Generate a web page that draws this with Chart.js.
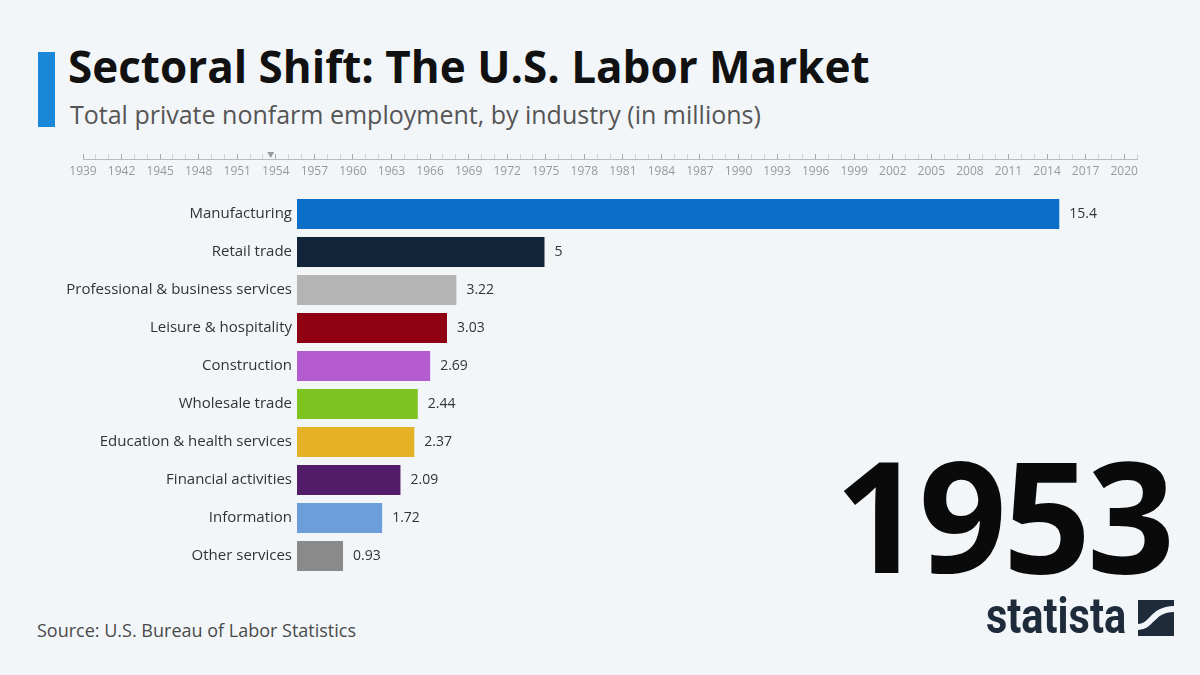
<!DOCTYPE html>
<html>
<head>
<meta charset="utf-8">
<script src="https://cdn.jsdelivr.net/npm/chart.js@4"></script>
<style>
  body { margin: 0; background: #f3f6f9; font-family: "Open Sans", sans-serif; }
  #page { position: relative; width: 1200px; height: 675px; overflow: hidden; }
  .accent { position: absolute; left: 38px; top: 52px; width: 17px; height: 75px; background: #1b87d8; }
  .title { position: absolute; left: 68px; top: 44px; font-size: 44px; line-height: 44px; font-weight: 700; color: #111; white-space: nowrap; }
  .subtitle { position: absolute; left: 70px; top: 101px; font-size: 25px; line-height: 26px; color: #555; white-space: nowrap; }
  .source { position: absolute; left: 37px; top: 620px; font-size: 18px; line-height: 20px; color: #4a4a4a; white-space: nowrap; }
  .year { position: absolute; right: 29px; top: 436px; font-size: 154px; line-height: 154px; font-weight: 700; color: #0a0a0a; letter-spacing: -4px; }
  .brand { position: absolute; left: 986px; top: 586px; font-family: Roboto, sans-serif; font-size: 50px; line-height: 60px; font-weight: 700; color: #1d2b3b; transform: scaleX(0.83); transform-origin: left; }
  .logo { position: absolute; left: 1138px; top: 600px; }
  canvas { position: absolute; left: 0; }
</style>
</head>
<body>
<div id="page">
  <div class="accent"></div>
  <div class="title">Sectoral Shift: The U.S. Labor Market</div>
  <div class="subtitle">Total private nonfarm employment, by industry (in millions)</div>
  <canvas id="timeline" width="1200" height="45" style="top:140px"></canvas>
  <canvas id="chart" width="1200" height="380" style="top:195px"></canvas>
  <div class="year" id="yearLabel"></div>
  <div class="brand">statista</div>
  <svg class="logo" width="36" height="36" viewBox="0 0 36 36">
    <rect width="36" height="36" fill="#1d2b3b"/>
    <path d="M0 27 C 14 27, 14 9, 36 9" stroke="#f3f6f9" stroke-width="6" fill="none"/>
  </svg>
  <div class="source">Source: U.S. Bureau of Labor Statistics</div>
</div>
<script>
// Chart data (snapshot for 1953)
const currentYear = 1953;
const markerYear = 1953.6;
const timelineStart = 1939;
const timelineEnd = 2021;
const industries = [
  'Manufacturing', 'Retail trade', 'Professional & business services',
  'Leisure & hospitality', 'Construction', 'Wholesale trade',
  'Education & health services', 'Financial activities', 'Information', 'Other services'
];
const employment = [15.4, 5, 3.22, 3.03, 2.69, 2.44, 2.37, 2.09, 1.72, 0.93];
const barColors = [
  '#0b6fc7', '#11243a', '#b4b4b4', '#8e0012', '#b45bd0',
  '#7ec421', '#e5b127', '#521c69', '#6c9edb', '#8a8a8a'
];

document.getElementById('yearLabel').textContent = currentYear;

// Value labels at the end of each bar
const valueLabels = {
  id: 'valueLabels',
  afterDatasetsDraw(chart) {
    const ctx = chart.ctx;
    const meta = chart.getDatasetMeta(0);
    ctx.save();
    ctx.font = '14px "Open Sans"';
    ctx.fillStyle = '#333';
    ctx.textBaseline = 'middle';
    meta.data.forEach((bar, i) => {
      ctx.fillText(String(employment[i]), bar.x + 10, bar.y);
    });
    ctx.restore();
  }
};

new Chart(document.getElementById('chart'), {
  type: 'bar',
  data: {
    labels: industries,
    datasets: [{
      data: employment,
      backgroundColor: barColors,
      barPercentage: 0.79,
      categoryPercentage: 1.0
    }]
  },
  options: {
    indexAxis: 'y',
    responsive: false,
    animation: false,
    layout: { padding: { left: 0, right: 12, top: 0, bottom: 0 } },
    plugins: { legend: { display: false }, tooltip: { enabled: false } },
    scales: {
      x: { min: 0, max: 18, display: false },
      y: {
        afterFit: s => { s.width = 297; s.paddingTop = 0; s.paddingBottom = 0; },
        grid: { display: false, drawTicks: false },
        border: { display: false },
        ticks: { color: '#333', padding: 5, font: { family: 'Open Sans', size: 15 } }
      }
    }
  },
  plugins: [valueLabels]
});

// Year timeline with position marker
new Chart(document.getElementById('timeline'), {
  type: 'scatter',
  data: {
    datasets: [{
      data: [{ x: markerYear, y: 1 }],
      pointStyle: 'triangle',
      rotation: 180,
      radius: 4,
      backgroundColor: '#999',
      borderWidth: 0,
      clip: false
    }]
  },
  options: {
    responsive: false,
    animation: false,
    layout: { padding: { left: 83, right: 63, top: 14, bottom: 0 } },
    plugins: { legend: { display: false }, tooltip: { enabled: false } },
    scales: {
      x: {
        type: 'linear',
        min: timelineStart,
        max: timelineEnd,
        afterFit: s => { s.height = 26; },
        border: { display: true, color: '#bbb' },
        grid: {
          drawOnChartArea: true,
          drawTicks: false,
          color: c => (c.tick && c.tick.value % 3 === 1) ? '#aaa' : '#d2d2d2'
        },
        ticks: {
          stepSize: 1,
          autoSkip: false,
          maxRotation: 0,
          padding: 5,
          color: '#999',
          font: { family: 'Open Sans', size: 12 },
          callback: v => (v % 3 === 1 && v <= 2020) ? String(v) : ''
        }
      },
      y: { display: false, min: 0, max: 1 }
    }
  }
});
</script>
</body>
</html>
